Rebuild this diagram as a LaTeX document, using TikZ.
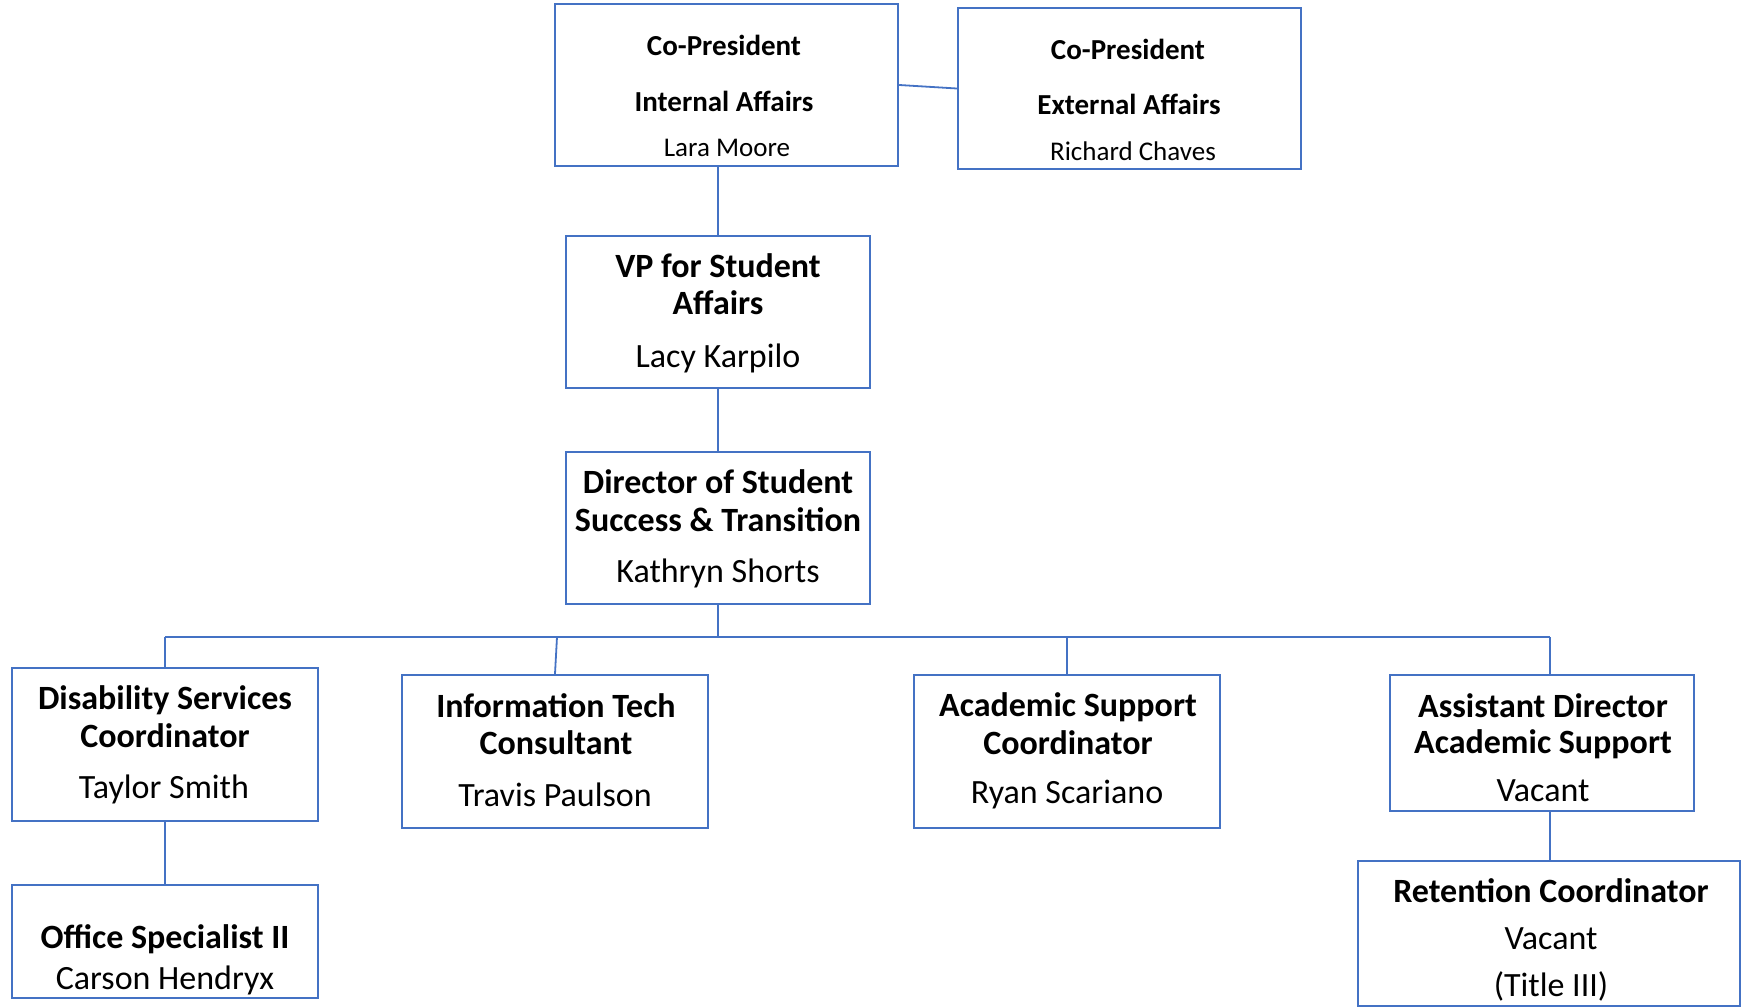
\documentclass[tikz,border=0pt]{standalone}
\usepackage{fontspec}
\setmainfont{Carlito}
\definecolor{orgblue}{HTML}{4472C4}
\begin{document}
\begin{tikzpicture}[x=1pt,y=-1pt,
  orgbox/.style={draw=orgblue,line width=2.4pt,rectangle,inner sep=0pt},
  link/.style={draw=orgblue,line width=1.8pt},
  big/.style={font=\fontsize{34}{40}\selectfont\bfseries,inner sep=0pt,anchor=center},
  bigname/.style={font=\fontsize{34}{40}\selectfont,inner sep=0pt,anchor=center},
  small/.style={font=\fontsize{29}{34}\selectfont\bfseries,inner sep=0pt,anchor=center},
  smallname/.style={font=\fontsize{27}{32}\selectfont,inner sep=0pt,anchor=center}]
\useasboundingbox (0,0) rectangle (1742,1008);
% boxes
\node[orgbox,minimum width=343,minimum height=162] (ci) at (726.5,85) {};
\node[orgbox,minimum width=343,minimum height=161] (ce) at (1129.5,88.5) {};
\node[orgbox,minimum width=304,minimum height=152] (vp) at (718,312) {};
\node[orgbox,minimum width=304,minimum height=152] (dir) at (718,528) {};
\node[orgbox,minimum width=306,minimum height=153] (dis) at (165,744.5) {};
\node[orgbox,minimum width=306,minimum height=153] (it) at (555,751.5) {};
\node[orgbox,minimum width=306,minimum height=153] (acad) at (1067,751.5) {};
\node[orgbox,minimum width=304,minimum height=136] (asst) at (1542,743) {};
\node[orgbox,minimum width=382,minimum height=145] (ret) at (1549,933.5) {};
\node[orgbox,minimum width=306,minimum height=113] (off) at (165,941.5) {};
% texts
\node[small] (ci1) at (724,45) {Co-President};
\node[small] (ci2) at (724,101) {Internal Affairs};
\node[smallname] (ci3) at (727,148) {Lara Moore};
\node[small] (ce1) at (1128,49) {Co-President};
\node[small] (ce2) at (1129,104) {External Affairs};
\node[smallname] (ce3) at (1133,151) {Richard Chaves};
\node[big] (vp1) at (718,266) {VP for Student};
\node[big] (vp2) at (718,303) {Affairs};
\node[bigname] (vp3) at (718,358) {Lacy Karpilo};
\node[big] (dir1) at (718,482) {Director of Student};
\node[big] (dir2) at (718,520) {Success \& Transition};
\node[bigname] (dir3) at (718,573) {Kathryn Shorts};
\node[big] (dis1) at (165,700) {Disability Services};
\node[big] (dis2) at (165,736) {Coordinator};
\node[bigname] (dis3) at (164,789) {Taylor Smith};
\node[big] (it1) at (556,706) {Information Tech};
\node[big] (it2) at (556,743) {Consultant};
\node[bigname] (it3) at (555,795) {Travis Paulson};
\node[big] (ac1) at (1068,707) {Academic Support};
\node[big] (ac2) at (1068,743) {Coordinator};
\node[bigname] (ac3) at (1067,795) {Ryan Scariano};
\node[big] (as1) at (1543,706) {Assistant Director};
\node[big] (as2) at (1543,744) {Academic Support};
\node[bigname] (as3) at (1543,791) {Vacant};
\node[big] (rt1) at (1551,891) {Retention Coordinator};
\node[bigname] (rt2) at (1551,939) {Vacant};
\node[bigname] (rt3) at (1551,986) {(Title III)};
\node[big] (of1) at (165,939) {Office Specialist II};
\node[bigname] (of2) at (165,980) {Carson Hendryx};
% connectors
\coordinate (busL) at (165,637);
\coordinate (busR) at (1550,637);
\coordinate (itTop) at (557,637);
\draw[link] (ci.east) -- (ce.west);
\draw[link] (vp.north) -- (vp.north |- ci.south);
\draw[link] (vp.south) -- (dir.north);
\draw[link] (dir.south) -- (dir.south |- busL);
\draw[link] (busL) -- (busR);
\draw[link] (busL) -- (dis.north);
\draw[link] (itTop) -- (it.north);
\draw[link] (acad.north |- busL) -- (acad.north);
\draw[link] (busR) -- (busR |- asst.north);
\draw[link] (busR |- asst.south) -- (busR |- ret.north);
\draw[link] (dis.south) -- (off.north);
\end{tikzpicture}
\end{document}
